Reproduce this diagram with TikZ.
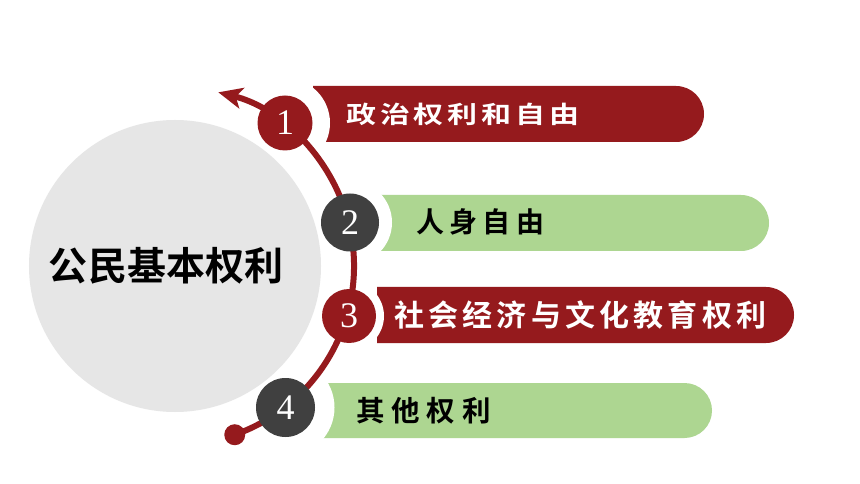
\documentclass[tikz,border=0pt]{standalone}
\usepackage{fontspec}
\setmainfont{Liberation Serif}
\newfontfamily\cjk{Noto Sans CJK SC}[BoldFont={Noto Sans CJK SC Bold}]
\usetikzlibrary{arrows.meta, shapes.misc}
\definecolor{darkred}{HTML}{951A1D}
\definecolor{leaf}{HTML}{ADD691}
\definecolor{slate}{HTML}{404040}
\definecolor{mist}{HTML}{E6E6E6}
\newcommand\itemfont[2]{\cjk\bfseries\fontsize{#1bp}{#1bp}\selectfont\addfontfeature{LetterSpace=#2}}
\tikzset{every picture/.style = {x=1bp, y=-1bp}}
\tikzset{band/.style = {rounded rectangle, rounded rectangle west arc=none,
    minimum height=56bp, inner sep=0, outer sep=0}}
\tikzset{gap/.style = {circle, fill=white, inner sep=0}}
\tikzset{num/.style = {circle, inner sep=0, text=white,
    font=\fontsize{36bp}{36bp}\selectfont}}
\tikzset{item/.style = {anchor=west, inner sep=0}}
\tikzset{dot/.style = {circle, fill=darkred, minimum size=21bp, inner sep=0}}

\begin{document}
\begin{tikzpicture}
  \fill[white] (0,0) rectangle (860,484);
  \useasboundingbox (0,0) rectangle (860,484);
  % bands
  \node(band1)[band, fill=darkred, minimum width=391bp] at (508.5,114) {};
  \node(band2)[band, fill=leaf, minimum width=391bp] at (573.5,223) {};
  \node(band3)[band, fill=darkred, minimum width=417bp] at (585.5,315) {};
  \node(band4)[band, fill=leaf, minimum width=390bp, minimum height=55bp] at (517,410.5) {};
  % white rings cut into the bands
  \node(gap1)[gap, minimum size=90bp] at (285,123) {};
  \node(gap2)[gap, minimum size=84bp] at (350,222.5) {};
  \node(gap3)[gap, minimum size=70bp] at (349,316) {};
  \node(gap4)[gap, minimum size=98bp] at (285.5,407.5) {};
  % centre
  \node(hub)[circle, fill=mist, minimum size=292bp, inner sep=0] at (175,266) {};
  \node(title) at (166,266) {\cjk\bfseries\fontsize{39bp}{39bp}\selectfont 公民基本权利};
  % arc
  \path (hub.center) ++(70.5:179) coordinate(tail);
  \node(knob)[dot] at (tail) {};
  \draw[darkred, line width=6bp, -{Stealth[length=24bp, width=21bp, inset=6bp]}]
    (tail) arc[start angle=70.5, end angle=-76, radius=179];
  % numbers
  \node(num1)[num, fill=darkred, minimum size=55bp] at (285,123) {1};
  \node(num2)[num, fill=slate, minimum size=58bp] at (350,222.5) {2};
  \node(num3)[num, fill=darkred, minimum size=54bp] at (349,316) {3};
  \node(num4)[num, fill=slate, minimum size=59bp] at (285.5,407.5) {4};
  % labels
  \node(lab1)[item, text=white] at (346,114.5)
    {\itemfont{30}{13}\scalebox{1}[0.8]{政治权利和自由}};
  \node(lab2)[item] at (416,221.5) {\itemfont{28}{19}人身自由};
  \node(lab3)[item, text=white] at (394,315) {\itemfont{30}{14}社会经济与文化教育权利};
  \node(lab4)[item] at (356,410.5) {\itemfont{28.5}{24}其他权利};
\end{tikzpicture}
\end{document}
